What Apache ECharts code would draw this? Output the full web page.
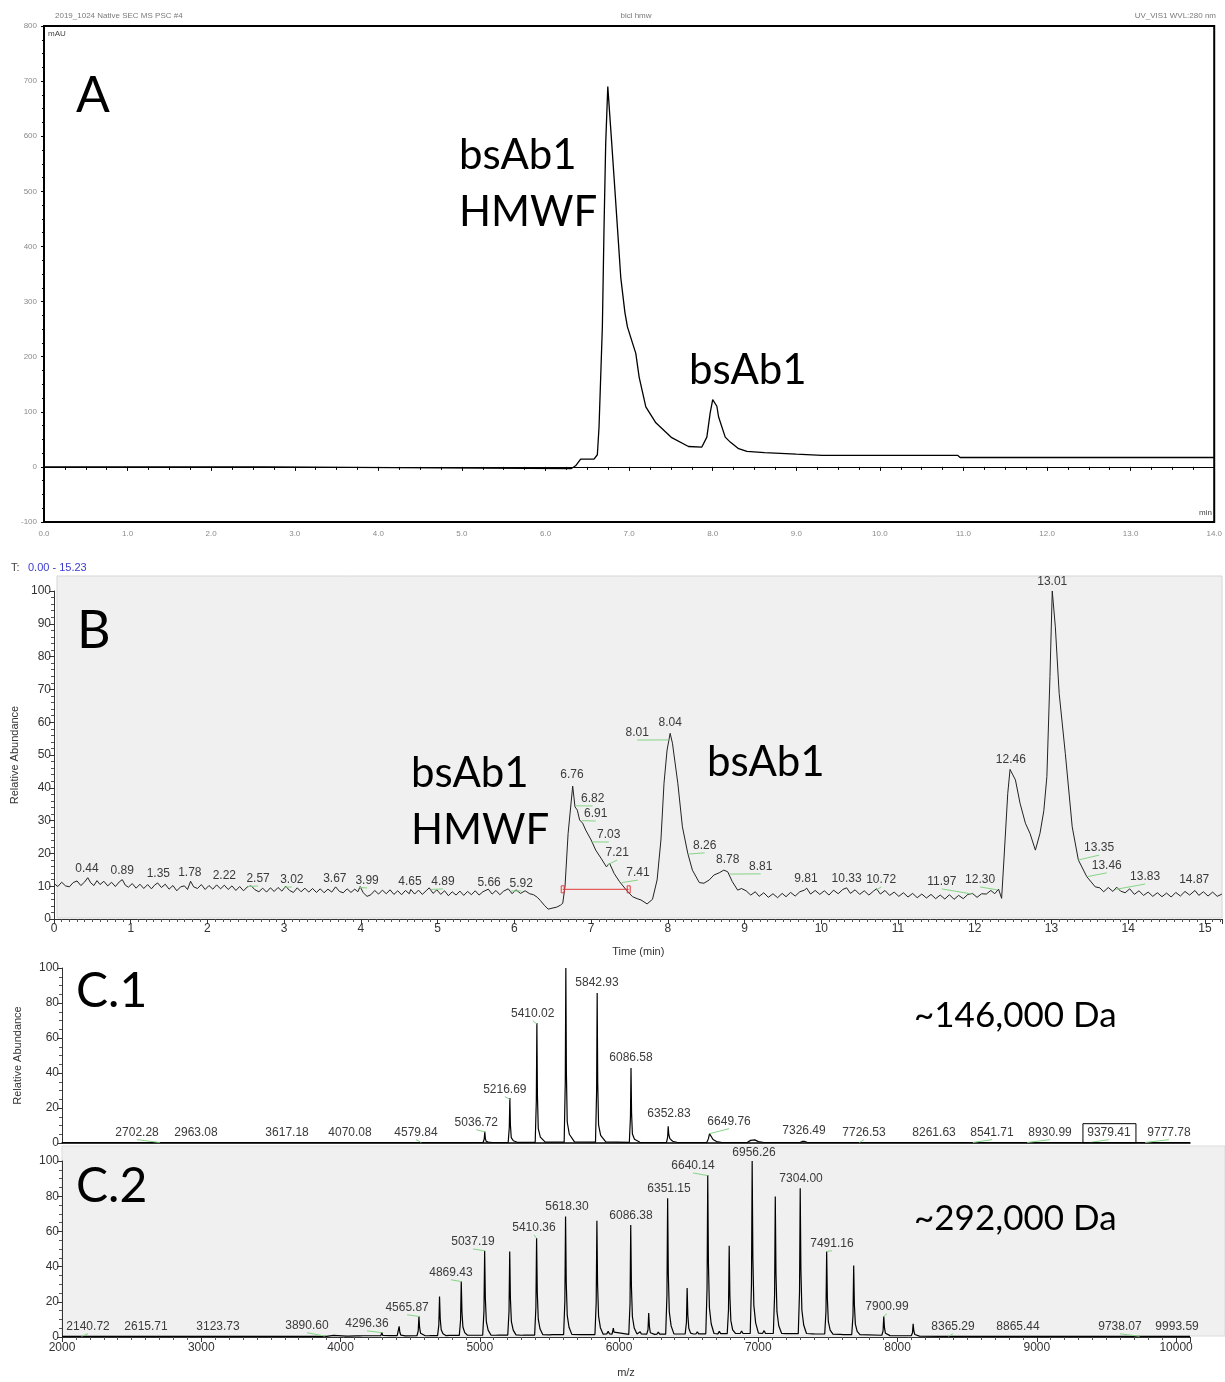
<!DOCTYPE html>
<html><head><meta charset="utf-8">
<script src="https://cdn.jsdelivr.net/npm/echarts@6/dist/echarts.min.js"></script>
<style>html,body{margin:0;padding:0;background:#fff}#c{width:1225px;height:1382px}</style>
</head><body><div id="c"></div>
<script>
// ---------- Panel A: UV trace (min, mAU) ----------
const aTime = [0, 2.63, 2.65, 6.31, 6.36, 6.42, 6.58, 6.62, 6.64, 6.68, 6.70, 6.72, 6.745, 6.76, 6.79, 6.82, 6.86, 6.90, 6.95, 6.98, 7.04, 7.08, 7.12, 7.20, 7.32, 7.51, 7.71, 7.87, 7.93, 7.97, 8.00, 8.02, 8.05, 8.07, 8.15, 8.21, 8.31, 8.41, 8.62, 9.0, 9.31, 10.93, 10.96, 14.0];
const aSignal = [0, 0, -3, -3, 2, 14, 14, 22, 72, 254, 435, 587, 690, 688, 592, 525, 435, 344, 280, 254, 225, 206, 163, 109, 80, 53, 37, 36, 54, 98, 122, 125, 110, 91, 54, 45, 33, 28, 26, 23, 21, 21, 17, 17];

// ---------- Panel B: TIC (min, relative abundance) ----------
const bTrace = [
[0.00,10.8],[0.05,9.9],[0.10,11.2],[0.15,10.1],[0.20,9.8],[0.25,11.1],[0.30,11.6],[0.35,10.2],[0.40,11.3],[0.44,12.6],
[0.48,11.0],[0.52,10.2],[0.56,11.7],[0.60,10.5],[0.65,11.5],[0.70,10.1],[0.75,11.2],[0.80,9.9],[0.85,11.3],[0.89,12.0],
[0.93,10.3],[0.97,9.7],[1.02,10.8],[1.07,9.4],[1.12,10.6],[1.17,9.3],[1.22,10.5],[1.27,9.2],[1.31,10.3],[1.35,11.0],
[1.40,9.6],[1.45,10.6],[1.50,9.1],[1.55,10.2],[1.60,8.6],[1.65,9.8],[1.70,10.1],[1.74,9.0],[1.78,11.5],[1.82,9.8],
[1.87,9.3],[1.92,10.5],[1.97,9.0],[2.02,10.2],[2.07,9.1],[2.12,10.4],[2.17,9.2],[2.22,10.3],[2.27,9.0],[2.32,10.1],
[2.37,8.7],[2.42,9.9],[2.47,8.6],[2.52,9.8],[2.57,10.1],[2.62,8.9],[2.67,8.3],[2.72,9.4],[2.77,8.2],[2.82,9.5],
[2.87,8.4],[2.92,9.6],[2.97,8.5],[3.02,10.0],[3.07,8.7],[3.12,8.1],[3.17,9.5],[3.22,8.3],[3.27,9.4],[3.32,8.2],
[3.37,9.3],[3.42,8.1],[3.47,9.2],[3.52,8.0],[3.57,9.1],[3.62,8.2],[3.67,9.8],[3.72,8.4],[3.77,8.0],[3.82,9.2],
[3.87,8.1],[3.92,9.1],[3.96,8.3],[3.99,9.9],[4.03,8.0],[4.08,6.9],[4.13,7.4],[4.18,8.7],[4.23,7.6],[4.28,8.8],
[4.33,7.7],[4.38,8.9],[4.43,7.5],[4.48,8.6],[4.53,7.4],[4.58,8.7],[4.63,7.7],[4.65,9.0],[4.70,7.6],[4.75,8.8],
[4.80,7.5],[4.85,8.6],[4.89,9.5],[4.94,7.8],[4.99,8.9],[5.04,7.5],[5.09,8.6],[5.14,7.1],[5.19,8.3],[5.24,7.3],
[5.29,8.5],[5.34,7.2],[5.39,8.4],[5.44,7.4],[5.49,8.6],[5.54,7.3],[5.59,8.3],[5.66,9.1],[5.71,7.6],[5.76,8.7],
[5.81,7.4],[5.86,8.5],[5.92,9.2],[5.97,7.7],[6.02,8.9],[6.08,7.8],[6.14,8.6],[6.20,7.7],[6.25,7.4],[6.30,6.6],
[6.34,5.6],[6.39,4.2],[6.44,3.0],[6.49,3.3],[6.55,3.6],[6.60,4.2],[6.63,4.8],[6.66,9.9],[6.70,26.0],[6.76,40.5],
[6.79,34.2],[6.82,33.2],[6.85,30.2],[6.89,29.2],[6.93,27.1],[7.00,24.1],[7.06,21.0],[7.13,18.5],[7.20,15.9],[7.24,17.0],
[7.30,13.9],[7.37,11.4],[7.46,8.8],[7.54,6.8],[7.60,6.2],[7.65,5.8],[7.73,4.6],[7.80,6.0],[7.86,11.9],[7.91,24.1],
[7.95,41.4],[7.99,51.5],[8.03,56.6],[8.06,53.6],[8.13,41.4],[8.19,28.1],[8.26,20.0],[8.32,14.9],[8.41,11.1],[8.47,10.9],
[8.54,11.9],[8.60,13.4],[8.67,14.1],[8.73,14.9],[8.78,14.4],[8.84,11.4],[8.91,8.8],[8.96,9.3],[9.02,8.6],[9.08,7.3],
[9.14,8.3],[9.19,6.9],[9.25,8.0],[9.31,6.6],[9.37,7.7],[9.43,6.5],[9.49,7.8],[9.54,6.8],[9.60,8.1],[9.66,7.0],
[9.72,8.3],[9.78,8.8],[9.81,9.4],[9.86,7.6],[9.92,8.7],[9.98,7.5],[10.04,8.6],[10.10,7.3],[10.16,8.8],[10.22,7.7],
[10.28,9.0],[10.33,9.5],[10.38,7.8],[10.44,8.9],[10.50,7.5],[10.56,8.6],[10.62,7.3],[10.68,8.5],[10.72,9.2],[10.77,7.6],
[10.83,8.7],[10.89,7.2],[10.95,8.2],[11.01,6.9],[11.07,8.0],[11.13,6.7],[11.19,7.8],[11.25,6.5],[11.31,7.6],[11.37,6.4],
[11.43,7.5],[11.49,6.2],[11.55,7.3],[11.61,6.1],[11.67,7.4],[11.73,6.0],[11.79,7.2],[11.85,6.2],[11.91,7.5],[11.97,7.8],
[12.03,6.6],[12.09,7.7],[12.15,7.6],[12.21,8.7],[12.26,7.7],[12.31,9.1],[12.35,6.3],[12.38,18.0],[12.43,38.3],[12.46,45.6],
[12.53,42.4],[12.59,35.3],[12.66,29.2],[12.72,26.1],[12.79,21.0],[12.85,26.1],[12.90,33.0],[12.94,43.4],[12.98,73.9],[13.01,100],
[13.05,89.1],[13.10,68.8],[13.18,50.5],[13.27,28.1],[13.35,18.0],[13.46,12.9],[13.57,9.8],[13.63,9.5],[13.68,8.3],[13.74,9.6],
[13.80,8.4],[13.85,9.7],[13.90,8.5],[13.96,8.0],[14.02,9.2],[14.08,7.5],[14.14,8.6],[14.20,7.2],[14.26,8.2],[14.32,6.9],
[14.38,8.0],[14.44,6.8],[14.50,7.9],[14.56,6.7],[14.62,8.1],[14.68,7.0],[14.74,8.4],[14.80,7.3],[14.87,8.7],[14.92,7.2],
[14.98,8.3],[15.04,7.0],[15.10,8.2],[15.16,6.9],[15.22,7.6]];
const bLabelText = ['0.44','0.89','1.35','1.78','2.22','2.57','3.02','3.67','3.99','4.65','4.89','5.66','5.92','6.76','6.82','6.91','7.03','7.21','7.41','8.01','8.04','8.26','8.78','8.81','9.81','10.33','10.72','11.97','12.30','12.46','13.01','13.35','13.46','13.83','14.87'];
const bLabelPos = [[0.43,15.2],[0.89,14.6],[1.36,13.7],[1.77,14.0],[2.22,13.1],[2.66,12.2],[3.10,11.9],[3.66,12.2],[4.08,11.6],[4.64,11.3],[5.07,11.3],[5.67,11.0],[6.09,10.7],[6.75,43.9],[7.02,36.6],[7.06,32.0],[7.23,25.6],[7.34,20.1],[7.61,14.0],[7.60,56.7],[8.03,59.8],[8.48,22.3],[8.78,18.0],[9.21,15.9],[9.80,12.2],[10.33,12.2],[10.78,11.9],[11.57,11.3],[12.07,11.9],[12.47,48.5],[13.01,102.7],[13.62,21.6],[13.72,16.2],[14.22,12.8],[14.86,11.9]];
const bLabelAnchor = [null,null,null,null,null,[2.53,9.9],[3.00,9.7],null,[3.98,9.6],null,[4.91,9.0],null,[5.95,8.5],null,[6.80,34.5],[6.88,30.0],[7.01,23.5],[7.21,16.5],[7.40,11.1],[8.01,54.6],null,[8.27,19.8],null,[8.80,13.7],null,null,[10.72,8.9],[11.97,7.6],[12.29,8.9],null,null,[13.35,18.0],[13.46,12.9],[13.83,9.0],null];
const bBracket = [6.63, 7.49, 9.05];

// ---------- Panel C.1: spectrum (m/z, relative abundance) ----------
const c1Spectrum = [[2000,0.2],[4860,0.2],[4870,1.2],[4880,0.2],
[5024,0.3],[5032,2.3],[5036,6.6],[5040,2.6],[5046,0.9],[5061,0.5],[5090,0.3],
[5204,0.3],[5212,9],[5216,25.7],[5220,10.3],[5226,3.1],[5241,1.3],[5270,0.4],
[5398,0.4],[5406,24],[5410,68.6],[5414,27.4],[5420,8.2],[5435,3.4],[5470,0.5],
[5606,0.5],[5614,35],[5618,100],[5622,40],[5628,12],[5643,5],[5680,0.6],
[5831,0.5],[5839,30],[5843,85.7],[5847,34.3],[5853,10.3],[5868,4.3],[5905,0.6],
[6074,0.4],[6082,15],[6086,42.9],[6090,17.2],[6096,5.1],[6111,2.1],[6150,0.4],
[6341,0.3],[6349,3.3],[6353,9.5],[6357,5],[6365,2.5],[6385,1],[6420,0.3],
[6630,0.3],[6642,2.5],[6650,5.3],[6660,4],[6675,2],[6700,0.8],[6740,0.3],
[6920,0.3],[6945,1.5],[6958,2.5],[6975,1.8],[7000,0.8],[7040,0.3],
[7300,0.3],[7315,0.9],[7330,1.0],[7350,0.4],[10100,0.2]];
const c1LabelText = ['2702.28','2963.08','3617.18','4070.08','4579.84','5036.72','5216.69','5410.02','5842.93','6086.58','6352.83','6649.76','7326.49','7726.53','8261.63','8541.71','8930.99','9379.41','9777.78'];
const c1LabelPos = [[2539,5.9],[2962,5.9],[3616,5.9],[4068,5.9],[4542,5.9],[4975,11.6],[5180,30.5],[5380,73.9],[5842,91.6],[6086,48.7],[6359,16.7],[6790,12.2],[7328,7.0],[7759,5.9],[8262,5.9],[8678,5.9],[9095,5.9],[9518,5.9],[9949,5.9]];
const c1LabelAnchor = [[2702,0.3],null,null,null,[4580,0.3],[5036,6.3],[5216,25],[5410,68],null,null,null,[6650,5.3],null,[7726,0.3],null,[8541,0.3],[8931,0.3],[9379,0.3],[9778,0.3]];
const c1Boxed = ['9379.41'];

// ---------- Panel C.2: spectrum (m/z, relative abundance) ----------
const c2Spectrum = [[2000,0.3],[3900,0.4],[3950,0.9],[3960,0.4],[4040,0.5],[4050,1.1],[4060,0.5],[4115,0.6],[4125,1.3],[4135,0.6],
[4165,0.7],[4172,1.6],[4180,0.7],[4230,0.7],[4238,1.3],[4246,0.7],[4290,0.8],[4296,2.6],[4304,0.9],[4355,0.8],[4362,1.6],[4370,0.8],
[4407,0.8],[4416,1.8],[4421,6],[4426,2.7],[4433,1.1],[4446,0.7],[4466,0.6],
[4549,0.7],[4558,3.5],[4563,11.7],[4568,5.3],[4575,2.1],[4588,1.0],[4608,0.7],
[4630,0.7],[4640,1.6],[4650,0.8],
[4697,0.8],[4706,6.9],[4711,23],[4716,10.4],[4723,4.1],[4736,1.8],[4756,0.8],
[4785,0.9],[4795,1.7],[4805,0.9],
[4853,0.9],[4862,9.5],[4867,31.5],[4872,14.2],[4879,5.7],[4892,2.5],[4912,1.0],
[4945,1.0],[4955,1.9],[4965,1.0],
[5021,1.0],[5030,14.7],[5035,49],[5040,22],[5047,8.8],[5060,3.9],[5080,1.1],
[5115,1.0],[5125,2.0],[5135,1.1],
[5201,1.1],[5210,14.6],[5215,48.6],[5220,21.9],[5227,8.7],[5240,3.9],[5260,1.2],
[5300,1.0],[5312,1.8],[5322,1.1],
[5394,1.1],[5403,16.9],[5408,56.2],[5413,25.3],[5420,10.1],[5433,4.5],[5453,1.3],
[5500,1.2],[5512,2.2],[5524,1.3],
[5602,1.3],[5611,20.5],[5616,68.4],[5621,30.8],[5628,12.3],[5641,5.5],[5661,1.5],
[5720,1.3],[5730,2.1],[5742,1.4],
[5827,1.4],[5836,19.8],[5841,66],[5846,29.7],[5853,11.9],[5866,5.3],[5886,1.6],
[5912,1.8],[5922,3.2],[5932,1.7],[5950,1.6],[5959,5],[5964,2.8],[5975,1.7],
[6070,1.5],[6079,19.1],[6084,63.7],[6089,28.7],[6096,11.5],[6109,5.1],[6129,1.7],
[6143,1.6],[6152,3.0],[6160,1.7],
[6199,1.6],[6208,4.1],[6213,13.6],[6218,6.1],[6225,2.4],[6238,1.6],[6255,1.5],
[6272,1.6],[6282,2.8],[6292,1.6],
[6335,1.6],[6344,23.6],[6349,78.8],[6354,35.5],[6361,14.2],[6374,6.3],[6394,1.8],
[6412,1.7],[6422,2.6],[6432,1.7],
[6475,1.7],[6484,8.3],[6489,27.8],[6494,12.5],[6501,5],[6514,2.2],[6534,1.7],
[6552,1.7],[6562,3.0],[6572,1.8],
[6623,1.8],[6632,27.6],[6637,92],[6642,41.4],[6649,16.6],[6662,7.4],[6682,2.0],
[6710,1.8],[6720,3.2],[6730,1.9],
[6777,1.9],[6786,15.5],[6791,51.8],[6796,23.3],[6803,9.3],[6816,4.1],[6836,2.0],
[6870,2.0],[6880,3.4],[6890,2.0],
[6942,2.0],[6951,30],[6956,100],[6961,45],[6968,18],[6981,8],[7001,2.2],
[7030,2.0],[7042,3.6],[7052,2.0],
[7108,2.0],[7117,23.9],[7122,79.8],[7127,35.9],[7134,14.4],[7147,6.4],[7167,2.1],
[7200,1.9],[7210,3.0],[7220,1.9],
[7287,1.9],[7296,25.4],[7301,84.5],[7306,38],[7313,15.2],[7326,6.8],[7346,2.0],
[7390,1.8],[7400,2.6],[7410,1.7],
[7477,1.7],[7486,14.6],[7491,48.6],[7496,21.9],[7503,8.7],[7516,3.9],[7536,1.6],
[7590,1.5],[7600,2.2],[7610,1.4],
[7671,1.4],[7680,12.2],[7685,40.6],[7690,18.3],[7697,7.3],[7710,3.2],[7730,1.3],
[7887,1.0],[7896,3.5],[7901,11.7],[7906,5.3],[7913,2.1],[7926,1.1],[7946,0.8],
[8098,0.7],[8107,2.3],[8112,7.5],[8117,3.4],[8124,1.4],[8137,0.8],[8157,0.5],
[8300,0.4],[10100,0.3]];
const c2LabelText = ['2140.72','2615.71','3123.73','3890.60','4296.36','4565.87','4869.43','5037.19','5410.36','5618.30','6086.38','6351.15','6640.14','6956.26','7304.00','7491.16','7900.99','8365.29','8865.44','9738.07','9993.59'];
const c2LabelPos = [[2187,5.8],[2603,5.8],[3120,5.8],[3759,6.4],[4190,7.5],[4478,16.6],[4793,36.5],[4951,54.0],[5389,62.0],[5626,74.0],[6086,68.8],[6359,84.1],[6531,97.2],[6969,105.0],[7307,89.8],[7529,53.0],[7924,17.2],[8398,5.8],[8865,5.8],[9597,5.8],[10007,5.8]];
const c2LabelAnchor = [[2140,0.4],null,null,[3890,0.5],[4296,2.5],[4563,11.7],[4867,31.5],[5035,49],[5408,56],null,null,null,[6637,91.7],null,null,[7491,48.6],[7901,11.7],[8365,0.4],null,[9738,0.4],null];

// ---------- axis ranges / tick steps ----------
const aYTicks = [-100, 800, 100];
const bXTicks = [0, 15.23, 1];
const cXTicks = [2000, 10100, 1000];

const numFont = '"Liberation Sans", Arial, sans-serif';
const bigFont = 'Lato, "Open Sans", sans-serif';

function labelSeries(xi, yi, pos, texts, anchors, boxed) {
  return {
    type: 'custom', xAxisIndex: xi, yAxisIndex: yi, clip: false, z: 6, silent: true,
    data: pos.map((p, i) => [p[0], p[1], anchors[i] ? anchors[i][0] : NaN, anchors[i] ? anchors[i][1] : NaN]),
    renderItem(params, api) {
      const i = params.dataIndex;
      const p = api.coord([api.value(0), api.value(1)]);
      const kids = [];
      const ax = api.value(2);
      if (!isNaN(ax)) {
        const a = api.coord([ax, api.value(3)]);
        kids.push({type: 'line', shape: {x1: a[0], y1: a[1], x2: p[0], y2: p[1] + 7}, style: {stroke: '#86d486', lineWidth: 1}});
      }
      kids.push({type: 'text', x: p[0], y: p[1], style: {text: texts[i], align: 'center', verticalAlign: 'middle', textAlign: 'center', textVerticalAlign: 'middle', fill: '#3a3a3a', font: '12px ' + numFont}});
      if (boxed && boxed.indexOf(texts[i]) >= 0) {
        kids.push({type: 'rect', shape: {x: p[0] - 26, y: p[1] - 9, width: 53, height: 19}, style: {fill: 'none', stroke: '#000', lineWidth: 1}});
      }
      return {type: 'group', children: kids};
    }
  };
}

function bigText(text, x, y, size, align) {
  return {type: 'text', x: x, y: y, z: 10, style: {text: text, font: size + 'px ' + bigFont, fill: '#000', align: align || 'left', textAlign: align || 'left', verticalAlign: 'middle', textVerticalAlign: 'middle'}};
}
function smallText(text, x, y, size, color, align) {
  return {type: 'text', x: x, y: y, z: 10, style: {text: text, font: size + 'px ' + numFont, fill: color, align: align || 'left', textAlign: align || 'left', verticalAlign: 'middle', textVerticalAlign: 'middle'}};
}

const chart = echarts.init(document.getElementById('c'), null, {renderer: 'canvas'});
const axisTxt = {color: '#333', fontSize: 12, fontFamily: numFont};

const option = {
  animation: false,
  backgroundColor: '#fff',
  grid: [
    {left: 44, top: 26, width: 1175, height: 496, show: true, borderColor: '#000', borderWidth: 2, backgroundColor: 'transparent'},
    {left: 54, top: 591, width: 1168.6, height: 328},
    {left: 62, top: 968, width: 1128, height: 175},
    {left: 62, top: 1161, width: 1128, height: 176}
  ],
  xAxis: [
    {gridIndex: 0, type: 'value', min: 0, max: 14, interval: 1, offset: 2,
     axisLine: {show: true, lineStyle: {color: '#000', width: 1}}, axisTick: {show: true, length: 4, lineStyle: {color: '#000'}},
     minorTick: {show: true, splitNumber: 4, length: 3, lineStyle: {color: '#000'}}, splitLine: {show: false},
     axisLabel: {color: '#8a8a8a', fontSize: 8, fontFamily: numFont, margin: 6, formatter: v => v.toFixed(1)}},
    {gridIndex: 1, type: 'value', min: bXTicks[0], max: bXTicks[1], interval: bXTicks[2],
     name: 'Time (min)', nameLocation: 'middle', nameGap: 27, nameTextStyle: {color: '#333', fontSize: 11, fontFamily: numFont},
     axisLine: {lineStyle: {color: '#333'}}, axisTick: {length: 5, lineStyle: {color: '#333'}},
     minorTick: {show: true, splitNumber: 10, length: 3, lineStyle: {color: '#555'}}, splitLine: {show: false},
     axisLabel: Object.assign({margin: 4, showMaxLabel: false, formatter: v => Number.isInteger(v) ? String(v) : ''}, axisTxt)},
    {gridIndex: 2, type: 'value', min: cXTicks[0], max: cXTicks[1], interval: cXTicks[2],
     axisLine: {lineStyle: {color: '#000', width: 1.5}}, axisTick: {show: false}, axisLabel: {show: false}, splitLine: {show: false}},
    {gridIndex: 3, type: 'value', min: cXTicks[0], max: cXTicks[1], interval: cXTicks[2],
     name: 'm/z', nameLocation: 'middle', nameGap: 30, nameTextStyle: {color: '#333', fontSize: 11, fontFamily: numFont},
     axisLine: {lineStyle: {color: '#333'}}, axisTick: {length: 5, lineStyle: {color: '#333'}},
     minorTick: {show: true, splitNumber: 10, length: 3, lineStyle: {color: '#555'}}, splitLine: {show: false},
     axisLabel: Object.assign({margin: 5, showMaxLabel: false, formatter: v => String(v)}, axisTxt)}
  ],
  yAxis: [
    {gridIndex: 0, type: 'value', min: aYTicks[0], max: aYTicks[1], interval: aYTicks[2], offset: 3,
     axisLine: {show: true, lineStyle: {color: '#000', width: 1}}, axisTick: {show: true, length: 3, lineStyle: {color: '#000'}},
     minorTick: {show: true, splitNumber: 4, length: 2, lineStyle: {color: '#000'}}, splitLine: {show: false},
     axisLabel: {color: '#8a8a8a', fontSize: 8, fontFamily: numFont, margin: 4, formatter: v => String(v)}},
    {gridIndex: 1, type: 'value', min: 0, max: 100, interval: 10,
     name: 'Relative Abundance', nameLocation: 'middle', nameRotate: 90, nameGap: 31, nameTextStyle: {color: '#333', fontSize: 11, fontFamily: numFont},
     axisLine: {show: true, lineStyle: {color: '#333'}}, axisTick: {show: true, length: 5, lineStyle: {color: '#333'}},
     minorTick: {show: true, splitNumber: 5, length: 3, lineStyle: {color: '#555'}}, splitLine: {show: false},
     axisLabel: Object.assign({margin: 3}, axisTxt)},
    {gridIndex: 2, type: 'value', min: 0, max: 100, interval: 20,
     name: 'Relative Abundance', nameLocation: 'middle', nameRotate: 90, nameGap: 39, nameTextStyle: {color: '#333', fontSize: 11, fontFamily: numFont},
     axisLine: {show: true, lineStyle: {color: '#333'}}, axisTick: {show: true, length: 5, lineStyle: {color: '#333'}},
     minorTick: {show: true, splitNumber: 4, length: 3, lineStyle: {color: '#555'}}, splitLine: {show: false},
     axisLabel: Object.assign({margin: 3}, axisTxt)},
    {gridIndex: 3, type: 'value', min: 0, max: 100, interval: 20,
     axisLine: {show: true, lineStyle: {color: '#333'}}, axisTick: {show: true, length: 5, lineStyle: {color: '#333'}},
     minorTick: {show: true, splitNumber: 4, length: 3, lineStyle: {color: '#555'}}, splitLine: {show: false},
     axisLabel: Object.assign({margin: 3}, axisTxt)}
  ],
  graphic: [
    {type: 'rect', z: -10, shape: {x: 57, y: 576, width: 1165, height: 342}, style: {fill: '#f0f0f0', stroke: '#d6d6d6', lineWidth: 1}},
    {type: 'rect', z: -10, shape: {x: 62, y: 1146, width: 1163, height: 190}, style: {fill: '#f0f0f0', stroke: '#dcdcdc', lineWidth: 1}},
    smallText('2019_1024 Native SEC MS PSC #4', 55, 16, 8, '#7a7a7a'),
    smallText('bicl hmw', 636, 16, 8, '#7a7a7a', 'center'),
    smallText('UV_VIS1 WVL:280 nm', 1216, 16, 8, '#7a7a7a', 'right'),
    smallText('mAU', 48, 34, 8, '#444'),
    smallText('min', 1212, 513, 8, '#444', 'right'),
    smallText('T:', 11, 568, 11, '#444'),
    smallText('0.00 - 15.23', 28, 568, 11, '#3b3bd0'),
    bigText('A', 76, 96, 50),
    bigText('bsAb1', 459, 155, 42),
    bigText('HMWF', 459, 212, 42),
    bigText('bsAb1', 689, 370, 42),
    bigText('B', 77, 631, 52),
    bigText('bsAb1', 411, 773, 42),
    bigText('HMWF', 411, 830, 42),
    bigText('bsAb1', 707, 762, 42),
    bigText('C.1', 76, 992, 48),
    bigText('~146,000 Da', 914, 1016, 35),
    bigText('C.2', 76, 1187, 48),
    bigText('~292,000 Da', 914, 1219, 35)
  ],
  series: [
    {type: 'line', xAxisIndex: 0, yAxisIndex: 0, data: aTime.map((t, i) => [t, aSignal[i]]), showSymbol: false, symbol: 'none', smooth: false,
     lineStyle: {color: '#000', width: 1.3}, z: 3},
    {type: 'line', xAxisIndex: 1, yAxisIndex: 1, data: bTrace, showSymbol: false, symbol: 'none',
     lineStyle: {color: '#222', width: 1}, z: 3},
    {type: 'line', xAxisIndex: 2, yAxisIndex: 2, data: c1Spectrum, showSymbol: false, symbol: 'none',
     lineStyle: {color: '#000', width: 1.2}, z: 3},
    {type: 'line', xAxisIndex: 3, yAxisIndex: 3, data: c2Spectrum, showSymbol: false, symbol: 'none',
     lineStyle: {color: '#000', width: 1.2}, z: 3},
    labelSeries(1, 1, bLabelPos, bLabelText, bLabelAnchor),
    labelSeries(2, 2, c1LabelPos, c1LabelText, c1LabelAnchor, c1Boxed),
    labelSeries(3, 3, c2LabelPos, c2LabelText, c2LabelAnchor),
    {type: 'custom', xAxisIndex: 1, yAxisIndex: 1, clip: false, z: 5, silent: true,
     data: [[bBracket[0], bBracket[2], bBracket[1]]],
     renderItem(params, api) {
       const a = api.coord([api.value(0), api.value(1)]);
       const b = api.coord([api.value(2), api.value(1)]);
       const st = {stroke: '#e23a3a', fill: 'none', lineWidth: 1};
       return {type: 'group', children: [
         {type: 'line', shape: {x1: a[0], y1: a[1], x2: b[0], y2: b[1]}, style: st},
         {type: 'rect', shape: {x: a[0] - 1.5, y: a[1] - 3.5, width: 3, height: 7}, style: st},
         {type: 'rect', shape: {x: b[0] - 1.5, y: b[1] - 3.5, width: 3, height: 7}, style: st}
       ]};
     }}
  ]
};
chart.setOption(option);
</script></body></html>
